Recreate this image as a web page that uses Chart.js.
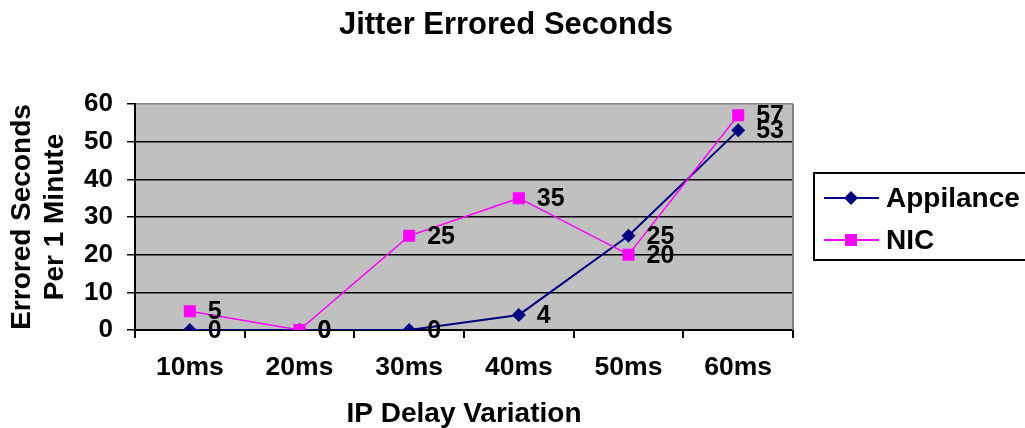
<!DOCTYPE html>
<html>
<head>
<meta charset="utf-8">
<script src="https://cdn.jsdelivr.net/npm/chart.js@4.4.0/dist/chart.umd.min.js"></script>
<style>
  html, body { margin: 0; padding: 0; background: #fff; }
  #wrap { width: 1025px; height: 428px; }
</style>
</head>
<body>
<div id="wrap"><canvas id="chart" width="1025" height="428"></canvas></div>
<script>
const categories = ["10ms", "20ms", "30ms", "40ms", "50ms", "60ms"];
const appilance = [0, 0, 0, 4, 25, 53];
const nic = [5, 0, 25, 35, 20, 57];
const seriesNames = ["Appilance", "NIC"];
const seriesColors = ["#000080", "#FF00FF"];
const chartTitle = "Jitter Errored Seconds";

const fontFam = "'Liberation Sans', Arial, sans-serif";

// gray plot background, right border and the title
const plotBg = {
  id: 'plotBg',
  beforeDraw(chart) {
    const {ctx, chartArea: a} = chart;
    ctx.save();
    ctx.fillStyle = '#C0C0C0';
    ctx.fillRect(a.left, a.top, a.right - a.left, a.bottom - a.top);
    ctx.restore();
  },
  afterDraw(chart) {
    const {ctx, chartArea: a} = chart;
    ctx.save();
    ctx.strokeStyle = '#808080';
    ctx.lineWidth = 2;
    ctx.beginPath();
    ctx.moveTo(a.right, a.top);
    ctx.lineTo(a.right, a.bottom);
    ctx.stroke();
    ctx.font = "bold 31px " + fontFam;
    ctx.fillStyle = '#000';
    ctx.textAlign = 'center';
    ctx.textBaseline = 'middle';
    ctx.fillText(chartTitle, 506, 25);
    ctx.restore();
  }
};

// value labels right of each point
const valueLabels = {
  id: 'valueLabels',
  afterDatasetsDraw(chart) {
    const ctx = chart.ctx;
    ctx.save();
    ctx.font = "bold 25px " + fontFam;
    ctx.fillStyle = '#000';
    ctx.textAlign = 'left';
    ctx.textBaseline = 'middle';
    chart.data.datasets.forEach((ds, i) => {
      chart.getDatasetMeta(i).data.forEach((pt, j) => {
        ctx.fillText(String(ds.data[j]), pt.x + 18, pt.y + 1);
      });
    });
    ctx.restore();
  }
};

// boxed legend on the right
const boxLegend = {
  id: 'boxLegend',
  afterDraw(chart) {
    const ctx = chart.ctx;
    ctx.save();
    ctx.strokeStyle = '#000';
    ctx.lineWidth = 2;
    ctx.strokeRect(814, 173, 220, 87);
    const rows = [198, 240];
    ctx.font = "bold 28px " + fontFam;
    ctx.textBaseline = 'middle';
    ctx.textAlign = 'left';
    rows.forEach((y, i) => {
      const c = seriesColors[i];
      ctx.strokeStyle = c;
      ctx.lineWidth = 2;
      ctx.beginPath();
      ctx.moveTo(824, y);
      ctx.lineTo(879, y);
      ctx.stroke();
      ctx.fillStyle = c;
      ctx.beginPath();
      if (i === 0) {
        ctx.moveTo(851, y - 7); ctx.lineTo(858, y); ctx.lineTo(851, y + 7); ctx.lineTo(844, y);
        ctx.closePath();
        ctx.fill();
      } else {
        ctx.fillRect(845, y - 6, 12, 12);
      }
      ctx.fillStyle = '#000';
      ctx.fillText(seriesNames[i], 886, y + 1);
    });
    ctx.restore();
  }
};

new Chart(document.getElementById('chart'), {
  type: 'line',
  data: {
    labels: categories,
    datasets: [{
      label: seriesNames[0],
      data: appilance,
      borderColor: seriesColors[0],
      backgroundColor: seriesColors[0],
      borderWidth: 2,
      pointStyle: 'rectRot',
      pointRadius: 7,
      pointBorderWidth: 0,
      order: 1
    }, {
      label: seriesNames[1],
      data: nic,
      borderColor: seriesColors[1],
      backgroundColor: seriesColors[1],
      borderWidth: 1.5,
      pointStyle: 'rect',
      pointRadius: 8.5,
      pointBorderWidth: 0,
      order: 0
    }]
  },
  options: {
    responsive: false,
    animation: false,
    layout: { padding: { left: 0, right: 232, top: 104, bottom: 0 } },
    plugins: {
      legend: { display: false },
      tooltip: { enabled: false },
      title: { display: false }
    },
    scales: {
      x: {
        offset: true,
        grid: {
          offset: true,
          drawOnChartArea: false,
          color: '#000',
          lineWidth: 2,
          tickLength: 8
        },
        border: { color: '#000', width: 2 },
        ticks: {
          color: '#000',
          padding: 14,
          maxRotation: 0,
          font: { family: fontFam, size: 26.5, weight: 'bold' }
        },
        title: {
          display: true,
          text: 'IP Delay Variation',
          color: '#000',
          font: { family: fontFam, size: 28, weight: 'bold', lineHeight: 1 },
          padding: { top: 0, bottom: 0 }
        },
        afterFit(scale) { scale.height = 98; }
      },
      y: {
        min: 0,
        max: 60,
        grid: {
          color: (c) => (c.tick && c.tick.value === 60 ? '#808080' : '#000'),
          tickColor: '#000',
          lineWidth: 1.5,
          tickLength: 8
        },
        border: { color: '#000', width: 2 },
        ticks: {
          stepSize: 10,
          color: '#000',
          padding: 14,
          font: { family: fontFam, size: 26, weight: 'bold' }
        },
        title: {
          display: true,
          text: ['Errored Seconds', 'Per 1 Minute'],
          color: '#000',
          font: { family: fontFam, size: 28, weight: 'bold', lineHeight: 1.2 },
          padding: { top: 5, bottom: 0 }
        },
        afterFit(scale) { scale.width = 135; }
      }
    }
  },
  plugins: [plotBg, valueLabels, boxLegend]
});
</script>
</body>
</html>
